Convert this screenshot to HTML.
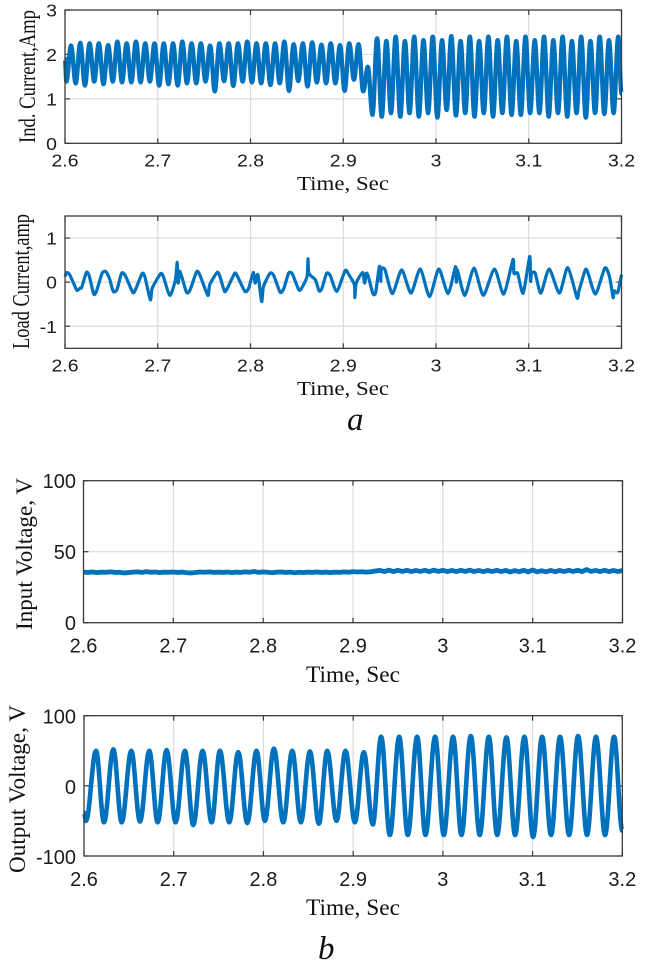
<!DOCTYPE html>
<html lang="en">
<head>
<meta charset="utf-8">
<title>Converter waveforms</title>
<style>
html,body{margin:0;padding:0;background:#fff;}
svg{display:block;filter:blur(0.35px);}
.tt{font-family:"Liberation Serif",serif;fill:#111;}
.tk{font-family:"Liberation Sans",sans-serif;fill:#1c1c1c;}
</style>
</head>
<body>
<svg id="figure" xmlns="http://www.w3.org/2000/svg" width="648" height="970" viewBox="0 0 648 970">
  <rect x="0" y="0" width="648" height="970" fill="#fff"/>
  <g id="panel-ind"></g>
  <g id="panel-load"></g>
  <g id="panel-in"></g>
  <g id="panel-out"></g>

  <text class="tt" transform="translate(35,143) rotate(-90)" font-size="23" textLength="133" lengthAdjust="spacingAndGlyphs">Ind. Current,Amp</text>
  <text class="tt" x="297" y="190" font-size="20" textLength="92" lengthAdjust="spacingAndGlyphs">Time, Sec</text>

  <text class="tt" transform="translate(29,349) rotate(-90)" font-size="24" textLength="135" lengthAdjust="spacingAndGlyphs">Load Current,amp</text>
  <text class="tt" x="297" y="395" font-size="20" textLength="92" lengthAdjust="spacingAndGlyphs">Time, Sec</text>
  <text class="tt" x="347" y="430" font-size="33" font-style="italic">a</text>

  <text class="tt" transform="translate(32,630) rotate(-90)" font-size="23" textLength="152" lengthAdjust="spacingAndGlyphs">Input Voltage, V</text>
  <text class="tt" x="306" y="682" font-size="23" textLength="94" lengthAdjust="spacingAndGlyphs">Time, Sec</text>

  <text class="tt" transform="translate(25,873) rotate(-90)" font-size="23" textLength="168" lengthAdjust="spacingAndGlyphs">Output Voltage, V</text>
  <text class="tt" x="306" y="915" font-size="23" textLength="94" lengthAdjust="spacingAndGlyphs">Time, Sec</text>
  <text class="tt" x="318" y="959" font-size="33" font-style="italic">b</text>
</svg>
<script>
// ---- shared axis values ----
const timeTicks = [2.6, 2.7, 2.8, 2.9, 3, 3.1, 3.2];
const timeTickLabels = ["2.6", "2.7", "2.8", "2.9", "3", "3.1", "3.2"];

// ---- inductor current: alternating troughs and peaks of the 100 Hz ripple ----
const indFirstTroughTime = 2.6015;
const indFirstPeakTime = 2.6065;
const indCyclePeriod = 0.01;
const indStartValue = 1.9;
const indEndValue = 1.12;
const indTroughs = [1.39,1.35,1.30,1.39,1.33,1.39,1.37,1.37,1.37,1.39,1.30,1.33,1.30,1.35,1.35,1.39,1.17,1.40,1.29,1.39,1.37,1.35,1.31,1.35,1.18,1.40,1.28,1.37,1.35,1.35,1.18,1.43,1.17,
  0.64,0.60,0.68,0.60,0.68,0.60,0.68,0.58,0.75,0.625,0.68,0.60,0.68,0.60,0.68,0.64,0.64,0.68,0.68,0.60,0.68,0.60,0.68,0.58,0.68,0.66,0.68];
const indPeaks = [2.20,2.26,2.25,2.25,2.21,2.29,2.25,2.29,2.25,2.25,2.25,2.25,2.29,2.25,2.25,2.20,2.25,2.25,2.25,2.29,2.25,2.25,2.25,2.29,2.23,2.25,2.27,2.22,2.25,2.21,2.25,2.23,1.72,
  2.36,2.30,2.40,2.30,2.40,2.32,2.40,2.32,2.41,2.30,2.40,2.30,2.40,2.32,2.40,2.30,2.40,2.32,2.40,2.32,2.40,2.30,2.40,2.30,2.40,2.32,2.40];
const indYTicks = [0, 1, 2, 3];
const indYLabels = ["0", "1", "2", "3"];

// ---- load current ----
const loadTime = [2.600,2.602,2.605,2.610,2.613,2.616,2.618,2.623,2.626,2.631,2.634,2.640,2.644,2.648,2.652,2.656,2.661,2.665,2.673,2.676,2.683,2.686,2.692,2.694,2.703,2.706,2.713,2.719,2.721,2.722,2.724,2.731,2.735,2.742,2.746,2.754,2.756,2.764,2.767,2.772,2.775,2.783,2.786,2.794,2.798,2.803,2.805,2.808,2.812,2.814,2.821,2.825,2.832,2.836,2.841,2.845,2.852,2.855,2.861,2.862,2.863,2.870,2.874,2.877,2.882,2.886,2.893,2.902,2.906,2.912,2.9125,2.914,2.921,2.923,2.925,2.927,2.932,2.935,2.939,2.9405,2.941,2.945,2.953,2.963,2.973,2.983,2.993,3.003,3.013,3.021,3.022,3.023,3.031,3.041,3.051,3.063,3.073,3.083,3.084,3.088,3.094,3.101,3.102,3.103,3.107,3.113,3.122,3.133,3.142,3.152,3.154,3.161,3.164,3.172,3.182,3.187,3.191,3.192,3.196,3.200];
const loadCurrent = [0.13,0.22,0.17,-0.06,-0.19,-0.14,-0.12,0.22,0.15,-0.27,-0.20,0.20,0.24,0.08,-0.21,-0.17,0.20,0.15,-0.23,-0.17,0.19,0.13,-0.40,-0.14,0.19,0.13,-0.30,0.05,0.45,-0.02,0.24,-0.23,-0.17,0.24,0.13,-0.30,-0.06,0.22,0.13,-0.21,-0.14,0.20,0.13,-0.21,-0.14,0.22,-0.02,0.17,-0.44,-0.10,0.20,0.15,-0.23,-0.14,0.20,0.19,-0.17,-0.14,0.13,0.53,0.20,0.05,-0.20,-0.14,0.20,0.15,-0.21,0.26,0.17,-0.06,-0.35,-0.02,0.22,-0.02,0.20,0.13,-0.26,-0.23,0.36,0.02,0.30,0.28,-0.26,0.28,-0.25,0.30,-0.33,0.30,-0.26,0.35,0,0.28,-0.30,0.32,-0.30,0.30,-0.27,0.51,0.20,0.20,-0.25,0.58,0.02,0.20,0.20,-0.25,0.30,-0.25,0.33,-0.35,-0.21,0.28,0.20,-0.27,0.32,0.13,-0.35,-0.20,-0.23,0.17];
const loadYTicks = [-1, 0, 1];
const loadYLabels = ["-1", "0", "1"];

// ---- input voltage, sampled every 5 ms from 2.6 s ----
const inputStartTime = 2.6;
const inputSampleStep = 0.005;
const inputVoltage = [35.6,35.4,35.7,35.3,35.6,35.5,35.8,35.4,35.5,35.0,35.3,35.6,35.8,35.4,36.0,35.5,35.7,35.3,35.6,35.5,35.7,35.4,35.6,35.2,35.0,35.4,35.7,35.5,35.8,35.4,35.6,35.4,35.7,35.3,35.6,35.4,35.8,35.5,36.1,35.4,35.8,35.5,35.2,35.6,35.7,35.4,35.6,35.2,35.5,35.3,35.6,35.4,35.7,35.4,35.6,35.3,35.6,35.4,35.8,35.5,36.0,35.7,35.9,35.6,35.9,36.4,36.8,36.0,37.0,36.0,36.9,36.1,36.9,36.0,36.8,36.1,36.9,36.0,37.0,36.1,36.9,36.0,36.8,36.0,36.9,36.1,37.0,36.0,36.8,35.9,36.8,36.0,36.9,36.0,36.8,35.7,36.7,35.9,36.9,35.8,37.1,35.8,36.6,35.8,36.8,35.9,36.8,36.0,36.9,36.1,36.9,36.0,37.4,36.1,36.8,36.0,36.9,36.0,36.8,36.0,36.8];
const inputYTicks = [0, 50, 100];
const inputYLabels = ["0", "50", "100"];

// ---- output voltage: successive extrema of the 50 Hz wave ----
const outputTime = [2.6,2.6022,2.6134,2.6223,2.6327,2.642,2.6527,2.6624,2.6728,2.6821,2.6921,2.7021,2.7125,2.7218,2.7322,2.7422,2.7515,2.7619,2.7719,2.782,2.7923,2.8016,2.8117,2.8221,2.8321,2.8417,2.8518,2.8618,2.8711,2.8815,2.8915,2.9019,2.9119,2.9219,2.9312,2.9409,2.9513,2.9609,2.9713,2.9806,2.9914,3.001,3.0114,3.0207,3.0311,3.0411,3.0512,3.0605,3.0709,3.0805,3.0909,3.1006,3.1106,3.1206,3.1306,3.1407,3.1507,3.1607,3.1707,3.1808,3.1908,3.2];
const outputVoltage = [-38,-50,50,-52,52,-52,50,-51,50,-52,51,-52,50,-56,50,-52,50,-52,48,-53,50,-50,53,-52,50,-52,49,-54,50,-50,50,-52,48,-55,70,-70,70,-70,70,-70,70,-70,70,-70,71,-70,70,-70,69,-70,70,-73,70,-70,70,-70,71,-70,70,-70,70,-64];
const outputYTicks = [-100, 0, 100];
const outputYLabels = ["-100", "0", "100"];

const NS = "http://www.w3.org/2000/svg";
const AXIS_COLOR = "#3a3a3a";
const GRID_COLOR = "#dcdcdc";
const LINE_COLOR = "#0072BD";

function make(tag, attrs, parent) {
  const el = document.createElementNS(NS, tag);
  for (const k in attrs) el.setAttribute(k, attrs[k]);
  parent.appendChild(el);
  return el;
}

function drawAxes(cfg) {
  const g = document.getElementById(cfg.id);
  const sx = t => cfg.left + (t - 2.6) / (3.2 - 2.6) * (cfg.right - cfg.left);
  const sy = v => cfg.bottom - (v - cfg.yMin) / (cfg.yMax - cfg.yMin) * (cfg.bottom - cfg.top);

  timeTicks.forEach((t, i) => {
    const x = sx(t);
    if (i > 0 && i < timeTicks.length - 1) {
      const grid = make("line", {x1: x, x2: x, y1: cfg.top, y2: cfg.bottom, stroke: GRID_COLOR, "stroke-width": 1.2}, g);
      
      
    }
    const tickA = make("line", {x1: x, x2: x, y1: cfg.bottom, y2: cfg.bottom - 5, stroke: AXIS_COLOR, "stroke-width": 1.2}, g);
    
    
    const tickB = make("line", {x1: x, x2: x, y1: cfg.top, y2: cfg.top + 5, stroke: AXIS_COLOR, "stroke-width": 1.2}, g);
    
    
    const label = make("text", {class: "tk", "font-size": cfg.font, "text-anchor": "middle",
      transform: "translate(" + x + "," + cfg.xLabelY + ") scale(" + cfg.stretch + ",1)"}, g);
    label.textContent = timeTickLabels[i];
    
    
  });

  cfg.yTicks.forEach((v, i) => {
    const y = sy(v);
    if (v !== cfg.yMin && v !== cfg.yMax) {
      const grid = make("line", {x1: cfg.left, x2: cfg.right, y1: y, y2: y, stroke: GRID_COLOR, "stroke-width": 1.2}, g);
      
      
    }
    const tickA = make("line", {x1: cfg.left, x2: cfg.left + 5, y1: y, y2: y, stroke: AXIS_COLOR, "stroke-width": 1.2}, g);
    
    
    const tickB = make("line", {x1: cfg.right, x2: cfg.right - 5, y1: y, y2: y, stroke: AXIS_COLOR, "stroke-width": 1.2}, g);
    
    
    const label = make("text", {class: "tk", "font-size": cfg.font, "text-anchor": "end",
      transform: "translate(" + cfg.yLabelX + "," + (y + cfg.yLabelDy) + ") scale(" + cfg.stretch + ",1)"}, g);
    label.textContent = cfg.yLabels[i];
    
    
  });
  return {g, sx, sy};
}

function drawFrame(cfg, g) {
  const frame = make("rect", {x: cfg.left, y: cfg.top, width: cfg.right - cfg.left, height: cfg.bottom - cfg.top,
    fill: "none", stroke: AXIS_COLOR, "stroke-width": 1.3}, g);
  
  
}

// Extrema are joined with horizontal tangents in a sine-like profile.
function smoothPath(pts) {
  let d = "M" + pts[0][0].toFixed(2) + " " + pts[0][1].toFixed(2);
  for (let i = 1; i < pts.length; i++) {
    const a = pts[i - 1], b = pts[i], k = 0.36 * (b[0] - a[0]);
    d += "C" + (a[0] + k).toFixed(2) + " " + a[1].toFixed(2) + " " + (b[0] - k).toFixed(2) + " " + b[1].toFixed(2) + " " + b[0].toFixed(2) + " " + b[1].toFixed(2);
  }
  return d;
}
// Lightly rounded joins through every sample, for the noisier traces.
function roundedPath(pts) {
  let d = "M" + pts[0][0].toFixed(2) + " " + pts[0][1].toFixed(2);
  for (let i = 1; i < pts.length; i++) {
    const p0 = pts[Math.max(i - 2, 0)], a = pts[i - 1], b = pts[i], p3 = pts[Math.min(i + 1, pts.length - 1)];
    const c1x = a[0] + (b[0] - p0[0]) / 9, c1y = a[1] + (b[1] - p0[1]) / 9;
    const c2x = b[0] - (p3[0] - a[0]) / 9, c2y = b[1] - (p3[1] - a[1]) / 9;
    d += "C" + c1x.toFixed(2) + " " + c1y.toFixed(2) + " " + c2x.toFixed(2) + " " + c2y.toFixed(2) + " " + b[0].toFixed(2) + " " + b[1].toFixed(2);
  }
  return d;
}
function straightPath(pts) {
  return "M" + pts.map(p => p[0].toFixed(2) + " " + p[1].toFixed(2)).join("L");
}

const indCfg = {id: "panel-ind", left: 65, right: 621.5, top: 10, bottom: 143.3, yMin: 0, yMax: 3,
  yTicks: indYTicks, yLabels: indYLabels, font: 18, stretch: 1.08, xLabelY: 166.7, yLabelX: 57, yLabelDy: 6.5};
const loadCfg = {id: "panel-load", left: 65, right: 621.5, top: 216, bottom: 348.3, yMin: -1.5, yMax: 1.5,
  yTicks: loadYTicks, yLabels: loadYLabels, font: 18, stretch: 1.08, xLabelY: 371.7, yLabelX: 57, yLabelDy: 6.5};
const inCfg = {id: "panel-in", left: 83.5, right: 622.5, top: 480.7, bottom: 622.7, yMin: 0, yMax: 100,
  yTicks: inputYTicks, yLabels: inputYLabels, font: 20, stretch: 1, xLabelY: 652.3, yLabelX: 76, yLabelDy: 7.5};
const outCfg = {id: "panel-out", left: 84, right: 622.3, top: 715.7, bottom: 856, yMin: -100, yMax: 100,
  yTicks: outputYTicks, yLabels: outputYLabels, font: 20, stretch: 1, xLabelY: 886, yLabelX: 76, yLabelDy: 8};

// Inductor current
{
  const ax = drawAxes(indCfg);
  const pts = [[ax.sx(2.6), ax.sy(indStartValue)]];
  indTroughs.forEach((v, i) => {
    pts.push([ax.sx(indFirstTroughTime + i * indCyclePeriod), ax.sy(v)]);
    pts.push([ax.sx(indFirstPeakTime + i * indCyclePeriod), ax.sy(indPeaks[i])]);
  });
  pts.push([ax.sx(3.2), ax.sy(indEndValue)]);
  const line = make("path", {d: smoothPath(pts), fill: "none", stroke: LINE_COLOR, "stroke-width": 4.4, "stroke-linejoin": "round"}, ax.g);
  
  
  drawFrame(indCfg, ax.g);
}

// Load current
{
  const ax = drawAxes(loadCfg);
  const pts = loadTime.map((t, i) => [ax.sx(t), ax.sy(loadCurrent[i])]);
  const line = make("path", {d: roundedPath(pts), fill: "none", stroke: LINE_COLOR, "stroke-width": 3.2, "stroke-linejoin": "round"}, ax.g);
  
  
  drawFrame(loadCfg, ax.g);
}

// Input voltage
{
  const ax = drawAxes(inCfg);
  const pts = inputVoltage.map((v, i) => [ax.sx(inputStartTime + i * inputSampleStep), ax.sy(v)]);
  const line = make("path", {d: straightPath(pts), fill: "none", stroke: LINE_COLOR, "stroke-width": 4.8, "stroke-linejoin": "round"}, ax.g);
  
  
  drawFrame(inCfg, ax.g);
}

// Output voltage
{
  const ax = drawAxes(outCfg);
  const pts = outputTime.map((t, i) => [ax.sx(t), ax.sy(outputVoltage[i])]);
  const line = make("path", {d: smoothPath(pts), fill: "none", stroke: LINE_COLOR, "stroke-width": 4.6, "stroke-linejoin": "round"}, ax.g);
  
  
  drawFrame(outCfg, ax.g);
}
</script>
</body>
</html>
